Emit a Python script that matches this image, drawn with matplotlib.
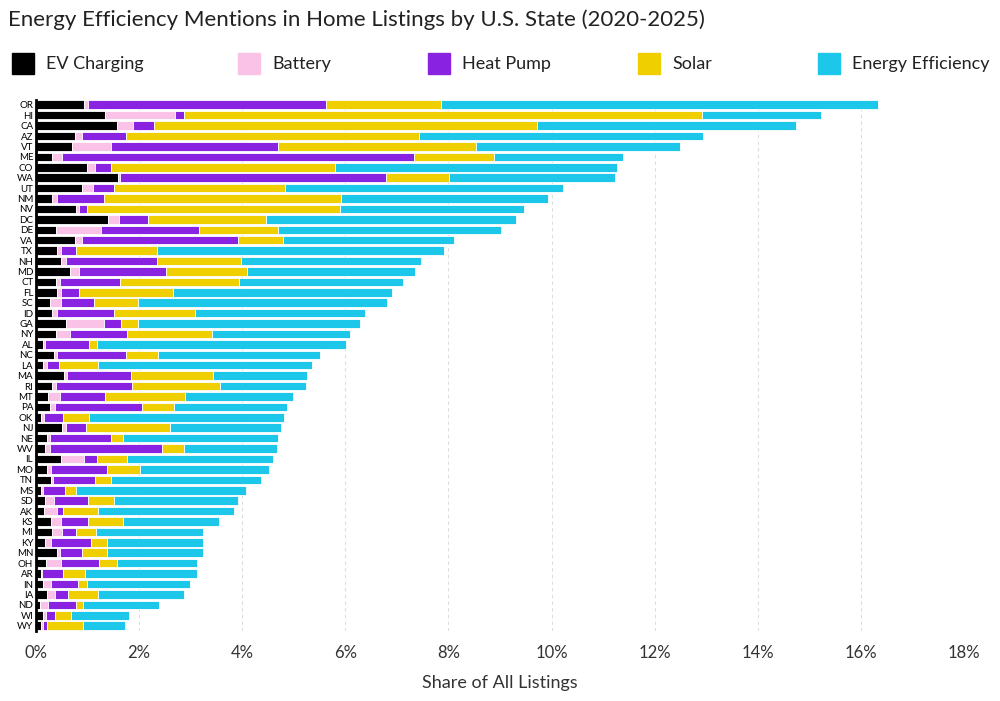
import matplotlib
matplotlib.use("Agg")
import matplotlib.pyplot as plt
import numpy as np

states = ["OR","HI","CA","AZ","VT","ME","CO","WA","UT","NM","NV","DC","DE","VA","TX","NH","MD","CT","FL","SC",
          "ID","GA","NY","AL","NC","LA","MA","RI","MT","PA","OK","NJ","NE","WV","IL","MO","TN","MS","SD","AK",
          "KS","MI","KY","MN","OH","AR","IN","IA","ND","WI","WY"]
ev = [0.93,1.34,1.57,0.76,0.70,0.32,0.98,1.59,0.90,0.32,0.78,1.39,0.38,0.76,0.41,0.49,0.66,0.38,0.41,0.28,
      0.31,0.58,0.39,0.14,0.34,0.14,0.54,0.32,0.24,0.27,0.10,0.51,0.22,0.17,0.48,0.22,0.29,0.10,0.18,0.16,
      0.29,0.32,0.18,0.40,0.20,0.09,0.13,0.22,0.08,0.13,0.10]
battery = [0.08,1.36,0.31,0.14,0.76,0.18,0.16,0.03,0.21,0.08,0.06,0.22,0.89,0.14,0.07,0.09,0.18,0.08,0.07,0.21,
           0.10,0.73,0.27,0.04,0.06,0.07,0.06,0.07,0.23,0.10,0.06,0.07,0.06,0.10,0.45,0.08,0.04,0.03,0.16,0.24,
           0.19,0.19,0.11,0.07,0.29,0.02,0.16,0.15,0.15,0.06,0.03]
heat_pump = [4.61,0.18,0.40,0.84,3.23,6.84,0.32,5.17,0.41,0.92,0.15,0.57,1.90,3.01,0.29,1.76,1.68,1.17,0.35,0.63,
             1.11,0.33,1.10,0.84,1.34,0.23,1.24,1.48,0.87,1.69,0.37,0.39,1.18,2.17,0.26,1.07,0.81,0.43,0.66,0.13,
             0.52,0.27,0.77,0.43,0.74,0.42,0.53,0.25,0.55,0.18,0.08]
solar = [2.24,10.03,7.44,5.69,3.84,1.55,4.34,1.23,3.31,4.59,4.91,2.28,1.52,0.89,1.57,1.63,1.58,2.31,1.83,0.85,
         1.56,0.34,1.65,0.17,0.63,0.77,1.59,1.69,1.55,0.61,0.49,1.62,0.22,0.43,0.58,0.65,0.32,0.21,0.52,0.68,
         0.68,0.39,0.32,0.48,0.34,0.43,0.17,0.59,0.13,0.31,0.71]
efficiency = [8.48,2.32,5.02,5.51,3.97,2.50,5.47,3.22,5.40,4.03,3.57,4.86,4.33,3.31,5.58,3.49,3.26,3.18,4.24,4.84,
              3.31,4.31,2.69,4.83,3.13,4.15,1.83,1.67,2.09,2.20,3.80,2.17,3.02,1.81,2.82,2.50,2.90,3.31,2.39,2.63,
              1.86,2.07,1.86,1.86,1.55,2.16,2.00,1.66,1.47,1.12,0.81]

series = [("EV Charging", ev, "#000000"), ("Battery", battery, "#f9c2e6"),
          ("Heat Pump", heat_pump, "#8a22e2"), ("Solar", solar, "#f0cf00"),
          ("Energy Efficiency", efficiency, "#1cc7ea")]

plt.rcParams['font.family'] = ['Lato', 'DejaVu Sans']
fig = plt.figure(figsize=(10, 7.01), dpi=100)
ax = fig.add_axes([0.036, 0.1, 0.928, 0.758])
y = np.arange(len(states))
left = np.zeros(len(states))
for name, vals, col in series:
    v = np.array(vals)
    ax.barh(y, v, left=left, height=0.82, color=col, edgecolor="white", linewidth=0.6, label=name)
    left += v
ax.set_ylim(len(states) - 0.5, -0.5)
ax.set_xlim(0, 18)
ax.set_yticks(y)
ax.set_yticklabels(states, fontsize=7)
ax.set_xticks(np.arange(0, 19, 2))
ax.set_xticklabels([f"{t}%" for t in range(0, 19, 2)], fontsize=12, color="#333333")
ax.tick_params(axis='y', length=0, pad=2)
ax.tick_params(axis='x', length=0, pad=10)
ax.xaxis.grid(True, linestyle=(0, (3, 3)), color="#dddddd", linewidth=0.8)
ax.set_axisbelow(True)
for s in ["top", "right", "bottom"]:
    ax.spines[s].set_visible(False)
ax.spines["left"].set_linewidth(2)
ax.set_xlabel("Share of All Listings", fontsize=13, color="#333333", labelpad=10)
fig.text(0.008, 0.972, "Energy Efficiency Mentions in Home Listings by U.S. State (2020-2025)",
         fontsize=16, va="center", ha="left", color="#222222")
# legend row
lx = [0.012, 0.238, 0.428, 0.638, 0.818]
for (name, vals, col), x in zip(series, lx):
    fig.patches.append(matplotlib.patches.Rectangle((x, 0.895), 0.022, 0.03, transform=fig.transFigure,
                                                    color=col, figure=fig))
    fig.text(x + 0.034, 0.909, name, fontsize=13, va="center", ha="left", color="#222222")
fig.savefig("out.png", dpi=100, facecolor="white")
